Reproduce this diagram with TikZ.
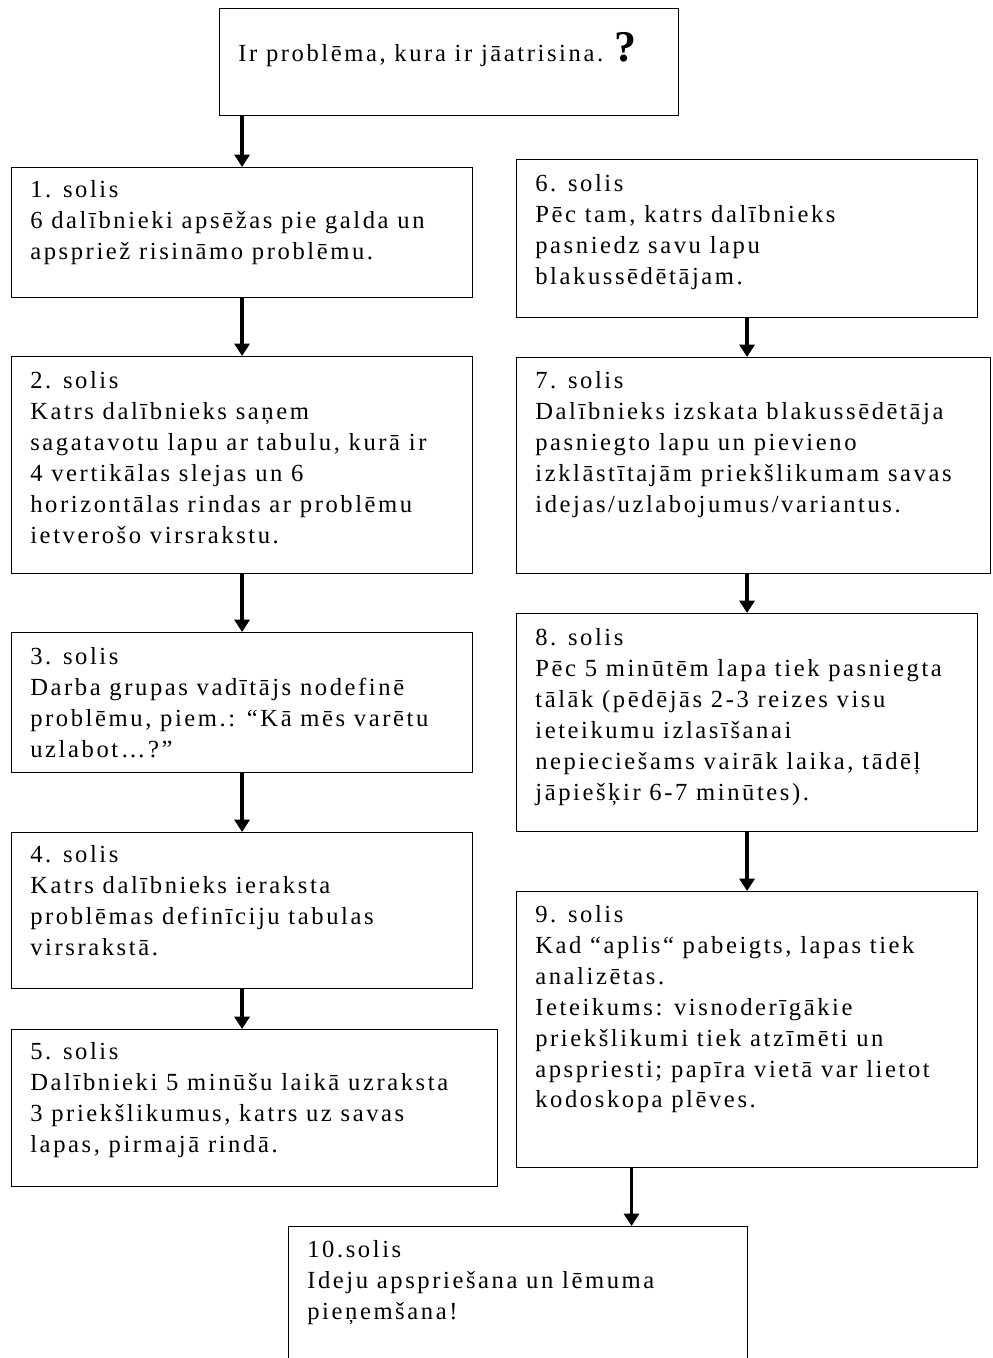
\documentclass[tikz,border=0pt]{standalone}
\usepackage{fontspec}
\setmainfont{Liberation Serif}[LetterSpace=10.5]
\usetikzlibrary{arrows.meta}
\usetikzlibrary{calc}

\begin{document}
\begin{tikzpicture}[x=0.02cm, y=-0.02cm]
        \tikzset{stepbox/.style = {shape=rectangle, draw, line width=0.7pt, anchor=north west, inner sep=0pt}}
        \tikzset{steptext/.style = {anchor=north west, align=left, inner sep=0pt, font=\fontsize{14}{17.6}\selectfont}}
        \tikzset{edge/.style = {line width=2.2pt, -{Triangle[width=8.5pt,length=7pt]}}}

        \clip (0,0) rectangle (992,1358);

        \node[stepbox, minimum width=9.18cm, minimum height=2.14cm] (top) at (219,8) {};
        \node[stepbox, minimum width=9.22cm, minimum height=2.60cm] (s1) at (11,167) {};
        \node[stepbox, minimum width=9.22cm, minimum height=4.34cm] (s2) at (11,356) {};
        \node[stepbox, minimum width=9.22cm, minimum height=2.80cm] (s3) at (11,632) {};
        \node[stepbox, minimum width=9.22cm, minimum height=3.12cm] (s4) at (11,832) {};
        \node[stepbox, minimum width=9.72cm, minimum height=3.14cm] (s5) at (11,1029) {};
        \node[stepbox, minimum width=9.22cm, minimum height=3.16cm] (s6) at (516,159) {};
        \node[stepbox, minimum width=9.48cm, minimum height=4.32cm] (s7) at (516,357) {};
        \node[stepbox, minimum width=9.22cm, minimum height=4.36cm] (s8) at (516,613) {};
        \node[stepbox, minimum width=9.22cm, minimum height=5.52cm] (s9) at (516,891) {};
        \node[stepbox, minimum width=9.18cm, minimum height=4.00cm] (s10) at (288,1226) {};

        \node[steptext] (t0) at ($(top.north west)+(19,24)$) {Ir problēma, kura ir jāatrisina. {\fontsize{25}{25}\selectfont\bfseries ?}};
        \node[steptext] (t1) at ($(s1.north west)+(19,13)$) {1. solis\\6 dalībnieki apsēžas pie galda un\\apspriež risināmo problēmu.};
        \node[steptext] (t2) at ($(s2.north west)+(19,15)$) {2. solis\\Katrs dalībnieks saņem\\sagatavotu lapu ar tabulu, kurā ir\\4 vertikālas slejas un 6\\horizontālas rindas ar problēmu\\ietverošo virsrakstu.};
        \node[steptext] (t3) at ($(s3.north west)+(19,15)$) {3. solis\\Darba grupas vadītājs nodefinē\\problēmu, piem.: “Kā mēs varētu\\uzlabot…?”};
        \node[steptext] (t4) at ($(s4.north west)+(19,13)$) {4. solis\\Katrs dalībnieks ieraksta\\problēmas definīciju tabulas\\virsrakstā.};
        \node[steptext] (t5) at ($(s5.north west)+(19,13)$) {5. solis\\Dalībnieki 5 minūšu laikā uzraksta\\3 priekšlikumus, katrs uz savas\\lapas, pirmajā rindā.};
        \node[steptext] (t6) at ($(s6.north west)+(19,15)$) {6. solis\\Pēc tam, katrs dalībnieks\\pasniedz savu lapu\\blakussēdētājam.};
        \node[steptext] (t7) at ($(s7.north west)+(19,14)$) {7. solis\\Dalībnieks izskata blakussēdētāja\\pasniegto lapu un pievieno\\izklāstītajām priekšlikumam savas\\idejas/uzlabojumus/variantus.};
        \node[steptext] (t8) at ($(s8.north west)+(19,15)$) {8. solis\\Pēc 5 minūtēm lapa tiek pasniegta\\tālāk (pēdējās 2-3 reizes visu\\ieteikumu izlasīšanai\\nepieciešams vairāk laika, tādēļ\\jāpiešķir 6-7 minūtes).};
        \node[steptext] (t9) at ($(s9.north west)+(19,14)$) {9. solis\\Kad “aplis“ pabeigts, lapas tiek\\analizētas.\\Ieteikums: visnoderīgākie\\priekšlikumi tiek atzīmēti un\\apspriesti; papīra vietā var lietot\\kodoskopa plēves.};
        \node[steptext] (t10) at ($(s10.north west)+(19,14)$) {10.solis\\Ideju apspriešana un lēmuma\\pieņemšana!};

        \coordinate (c9) at ($(s9.south west)!0.25!(s9.south east)$);

        \draw[edge] (s1.north |- top.south) to (s1.north);
        \draw[edge] (s1) to (s2);
        \draw[edge] (s2) to (s3);
        \draw[edge] (s3) to (s4);
        \draw[edge] (s4.south) to (s4.south |- s5.north);
        \draw[edge] (s6.south) to (s6.south |- s7.north);
        \draw[edge] (s7.south -| s8.north) to (s8.north);
        \draw[edge] (s8) to (s9);
        \draw[edge] (c9) to (c9 |- s10.north);
      \end{tikzpicture}
\end{document}
